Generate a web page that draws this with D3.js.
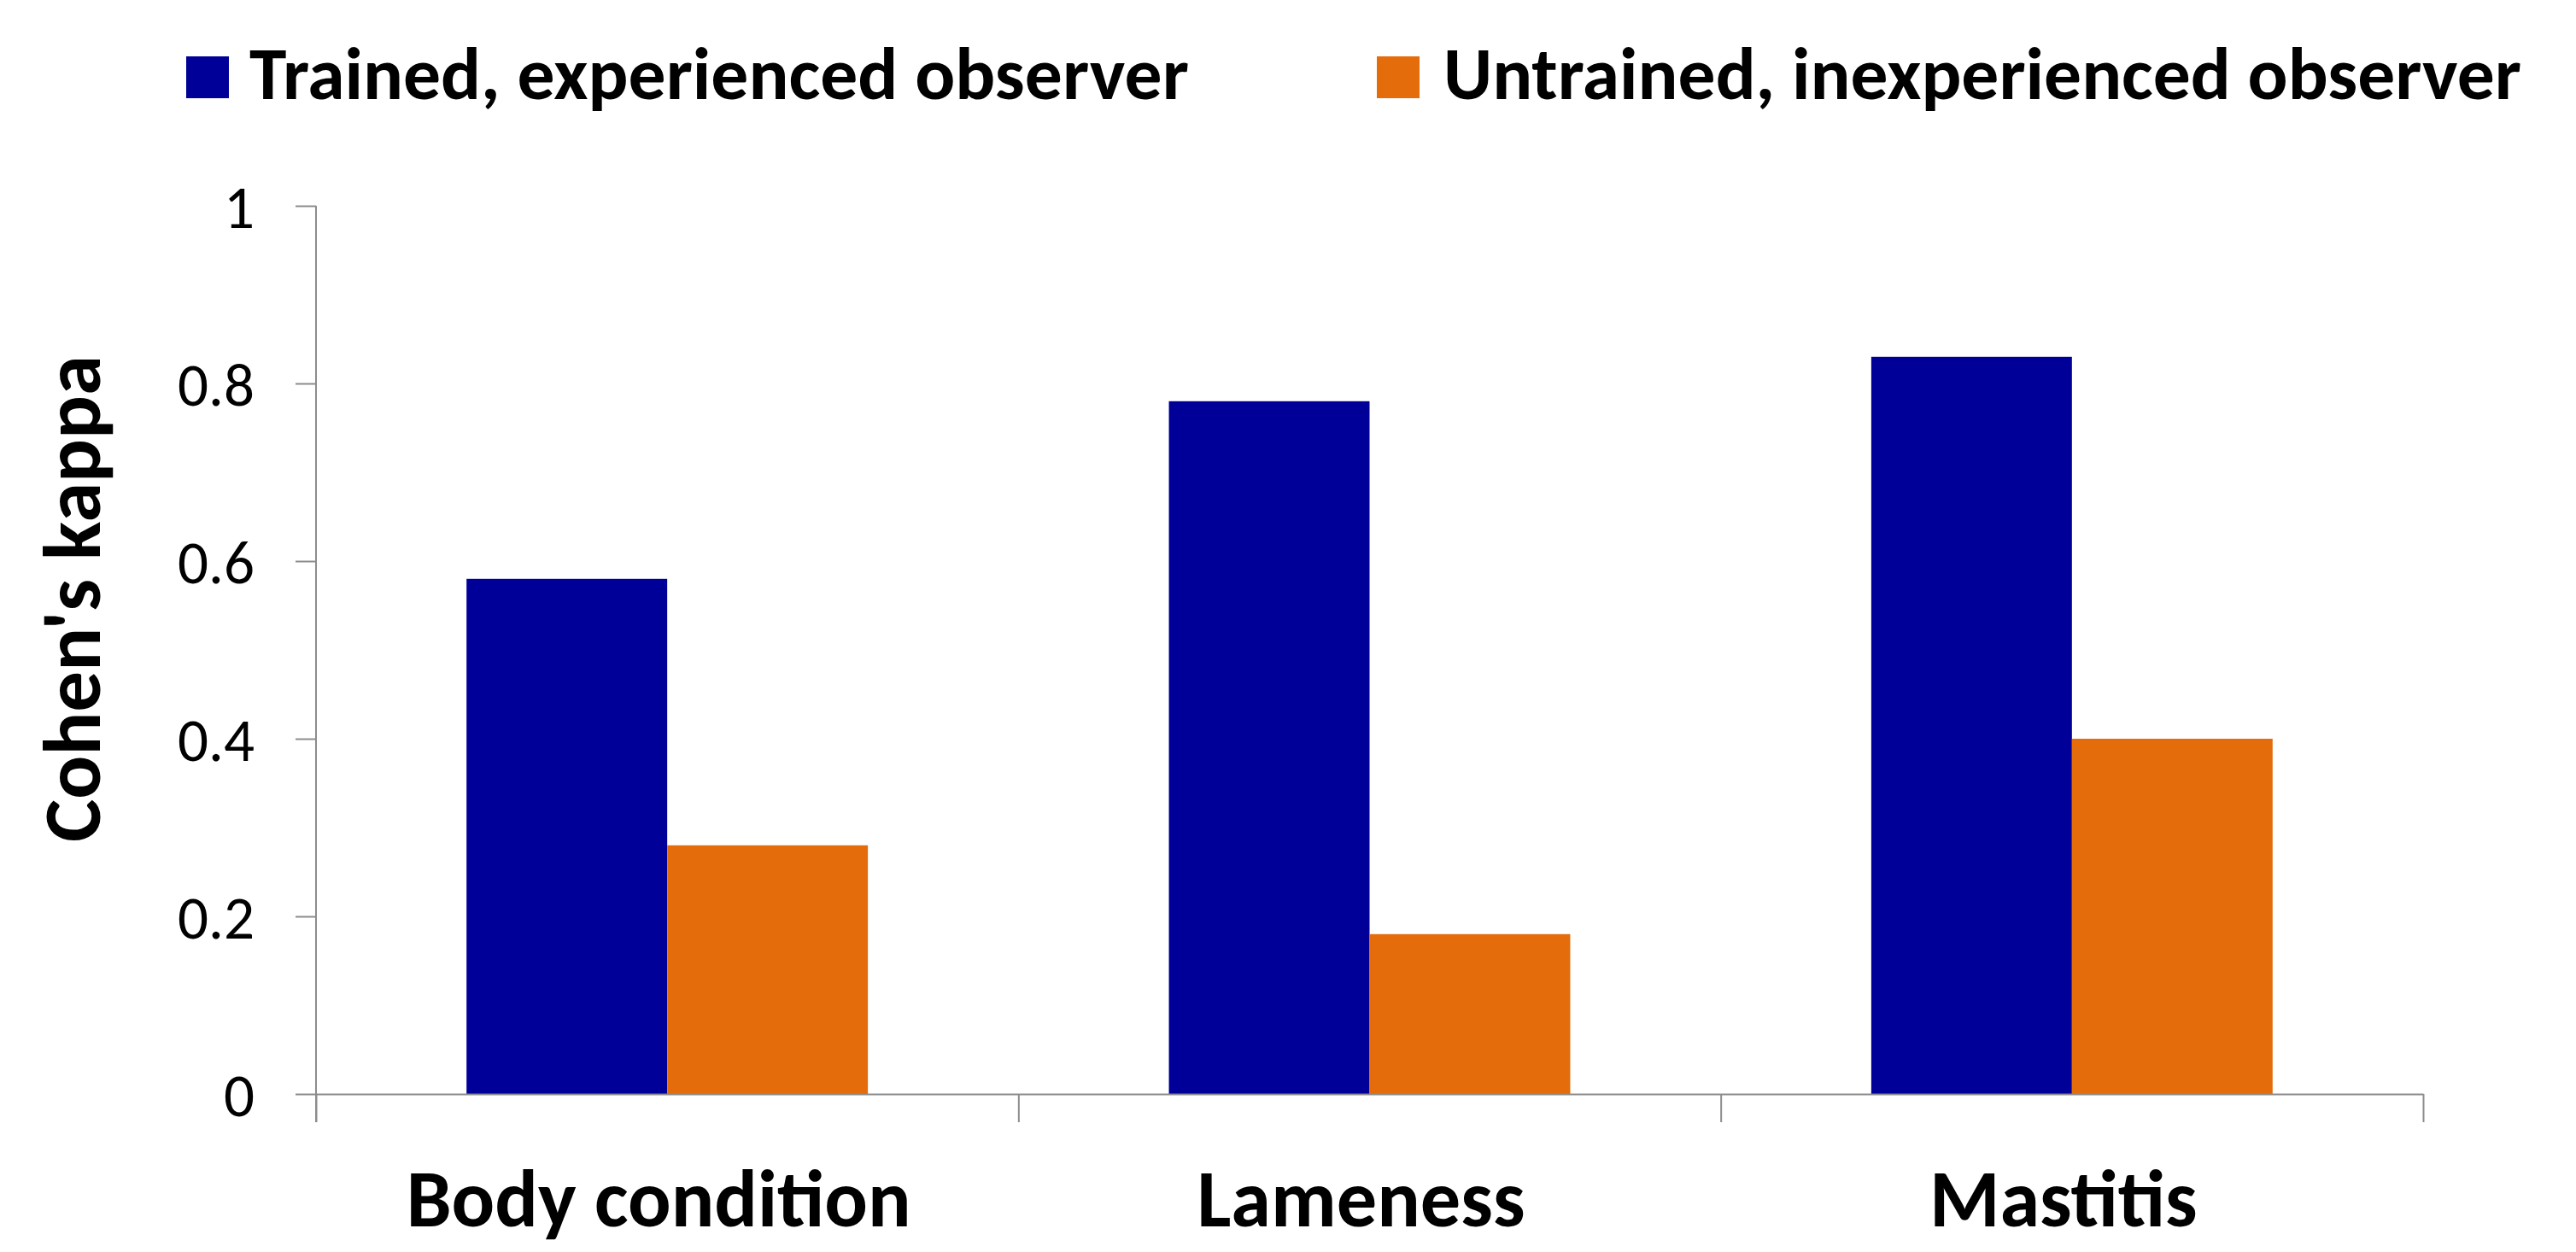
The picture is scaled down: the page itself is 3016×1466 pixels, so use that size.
<!DOCTYPE html>
<html>
<head>
<meta charset="utf-8">
<script src="https://cdn.jsdelivr.net/npm/d3@7"></script>
<style>
  html, body { margin: 0; padding: 0; background: #ffffff; }
  svg { display: block; }
</style>
</head>
<body>
<script>
// ---- data ----
const categories = ["Body condition", "Lameness", "Mastitis"];
const seriesNames = ["Trained, experienced observer", "Untrained, inexperienced observer"];
const trainedValues = [0.58, 0.78, 0.83];
const untrainedValues = [0.28, 0.18, 0.40];
const yTickValues = [0, 0.2, 0.4, 0.6, 0.8, 1];
const yTickLabels = ["0", "0.2", "0.4", "0.6", "0.8", "1"];
const seriesColors = ["#000099", "#E46C0A"];
const yTitle = "Cohen's kappa";

// ---- layout ----
const W = 3016, H = 1466;
const plotLeft = 370, plotRight = 2837, plotTop = 241, plotBottom = 1281;
const axisColor = "#8c8c8c";
const FONT = "Carlito, Calibri, Lato, 'Open Sans', sans-serif";

const svg = d3.select("body").append("svg")
  .attr("width", W).attr("height", H)
  .attr("viewBox", `0 0 ${W} ${H}`);
svg.append("rect").attr("width", W).attr("height", H).attr("fill", "#fff");

function fitText(sel, targetWidth) {
  sel.attr("font-size", 100);
  const w = sel.node().getComputedTextLength();
  const size = 100 * targetWidth / w;
  sel.attr("font-size", size);
  return size;
}

const x0 = d3.scaleBand().domain(categories).range([plotLeft, plotRight]).paddingInner(0).paddingOuter(0);
const x1 = d3.scaleBand().domain(d3.range(seriesNames.length)).range([0, x0.bandwidth()]).paddingInner(0).paddingOuter(0.75);
const y = d3.scaleLinear().domain([0, 1]).range([plotBottom, plotTop]);
const xIdx = d3.scaleLinear().domain([0, categories.length]).range([plotLeft, plotRight]);

const seriesData = [trainedValues, untrainedValues];

// bars
const groups = svg.append("g").selectAll("g")
  .data(categories)
  .join("g")
  .attr("transform", d => `translate(${x0(d)},0)`);

groups.selectAll("rect")
  .data((c, ci) => seriesData.map((vals, si) => ({ si, v: vals[ci] })))
  .join("rect")
  .attr("x", d => x1(d.si))
  .attr("width", x1.bandwidth())
  .attr("y", d => y(d.v))
  .attr("height", d => y(0) - y(d.v))
  .attr("fill", d => seriesColors[d.si]);

// y axis
const yAxis = svg.append("g")
  .attr("transform", `translate(${plotLeft},0)`)
  .call(d3.axisLeft(y).tickValues(yTickValues)
    .tickFormat((d, i) => yTickLabels[i])
    .tickSize(24).tickSizeOuter(0).tickPadding(48));
yAxis.select(".domain").remove();
yAxis.selectAll(".tick line").attr("stroke", axisColor).attr("stroke-width", 2);
yAxis.selectAll(".tick text")
  .attr("fill", "#000")
  .style("font-family", FONT)
  .attr("font-weight", "normal");
let tickSize = 71;
yAxis.selectAll(".tick text").each(function(d, i) {
  if (yTickLabels[i] === "0.8") tickSize = fitText(d3.select(this), 90);
});
yAxis.selectAll(".tick text").attr("font-size", tickSize).attr("dy", "0.36em");

svg.append("line")
  .attr("x1", plotLeft).attr("x2", plotLeft)
  .attr("y1", y(1)).attr("y2", plotBottom + 33)
  .attr("stroke", axisColor).attr("stroke-width", 2);

// x axis (category boundaries)
const xAxis = svg.append("g")
  .attr("transform", `translate(0,${plotBottom})`)
  .call(d3.axisBottom(xIdx).tickValues(d3.range(categories.length + 1))
    .tickFormat("").tickSize(33).tickSizeOuter(0));
xAxis.select(".domain").attr("stroke", axisColor).attr("stroke-width", 2);
xAxis.selectAll(".tick line").attr("stroke", axisColor).attr("stroke-width", 2);

// category labels
const catLabels = svg.append("g").selectAll("text")
  .data(categories)
  .join("text")
  .attr("x", d => x0(d) + x0.bandwidth() / 2 - 10)
  .attr("y", 1436)
  .attr("text-anchor", "middle")
  .attr("font-weight", "bold")
  .style("font-family", FONT)
  .attr("fill", "#000")
  .text(d => d);
const catSize = fitText(catLabels.filter((d, i) => i === 0), 591);
catLabels.attr("font-size", catSize);

// y title
const yt = svg.append("text")
  .attr("transform", `translate(117,701) rotate(-90)`)
  .attr("text-anchor", "middle")
  .attr("font-weight", "bold")
  .style("font-family", FONT)
  .attr("fill", "#000")
  .text(yTitle);
fitText(yt, 570);

// legend
const legendItems = [
  { sx: 218, tx: 292, w: 1100 },
  { sx: 1612, tx: 1690, w: 1262 }
];
const leg = svg.append("g");
seriesNames.forEach((name, i) => {
  const L = legendItems[i];
  leg.append("rect")
    .attr("x", L.sx).attr("y", 66)
    .attr("width", 50).attr("height", 49)
    .attr("fill", seriesColors[i]);
  const t = leg.append("text")
    .attr("x", L.tx).attr("y", 116)
    .attr("font-weight", "bold")
    .style("font-family", FONT)
    .attr("fill", "#000")
    .text(name);
  fitText(t, L.w);
});
</script>
</body>
</html>
